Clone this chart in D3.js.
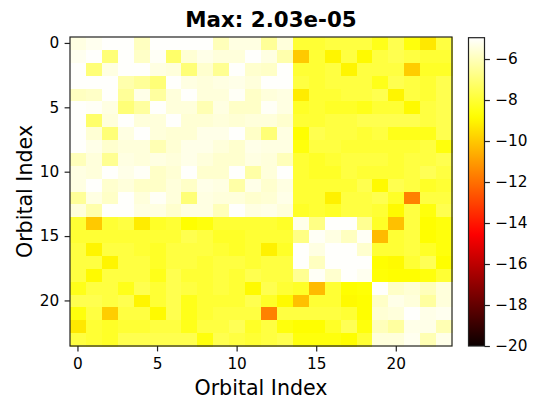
<!DOCTYPE html>
<html>
<head>
<meta charset="utf-8">
<script src="https://cdn.jsdelivr.net/npm/d3@7"></script>
<style>
  body { margin: 0; background: #fff; }
  svg { display: block; font-family: "DejaVu Sans", sans-serif; }
</style>
</head>
<body>
<div id="chart"></div>
<script>
// orbital indices on both axes
var orbitals = d3.range(0, 24);
var axisTicks = [0, 5, 10, 15, 20];
var colorTicks = [-6, -8, -10, -12, -14, -16, -18, -20];
var colorDomain = [-20, -4.96];
var titleText = 'Max: 2.03e-05';

// log10 magnitude of each matrix element (row = y, col = x)
var logMagnitude = [
    [-5.4, -5.2, -5.0, -5.0, -5.9, -5.0, -5.0, -5.0, -5.0, -6.0, -5.4, -5.4, -6.5, -5.5, -8.0, -8.0, -7.8, -7.8, -7.8, -8.4, -7.6, -8.6, -9.3, -7.8],
    [-5.2, -5.0, -7.0, -5.0, -5.8, -5.1, -7.2, -5.6, -5.3, -5.5, -5.5, -5.0, -5.4, -6.2, -10.0, -8.0, -9.0, -7.8, -8.9, -7.8, -7.6, -7.8, -8.0, -8.0],
    [-5.0, -7.0, -5.4, -5.0, -5.0, -5.4, -5.5, -7.0, -5.7, -6.6, -5.0, -5.7, -5.8, -5.0, -8.0, -8.0, -7.8, -9.0, -7.8, -7.8, -7.8, -9.9, -8.2, -8.2],
    [-5.0, -5.0, -5.0, -6.2, -6.5, -7.0, -5.0, -5.4, -5.5, -5.4, -5.3, -5.5, -5.0, -5.0, -7.8, -8.0, -7.8, -7.8, -7.8, -8.4, -7.6, -7.8, -8.0, -7.6],
    [-5.9, -5.8, -5.0, -6.5, -5.3, -6.4, -5.5, -5.0, -5.5, -5.5, -5.1, -5.8, -5.5, -5.4, -9.2, -8.0, -8.0, -7.8, -7.8, -7.6, -9.0, -7.8, -8.0, -7.6],
    [-5.0, -5.1, -5.4, -7.0, -6.4, -5.0, -5.5, -5.5, -6.1, -5.4, -5.8, -5.8, -5.1, -5.4, -8.2, -8.0, -8.2, -8.2, -8.4, -8.0, -8.0, -8.9, -7.8, -7.6],
    [-5.0, -7.2, -5.5, -5.0, -5.5, -5.5, -5.0, -5.6, -5.6, -5.5, -5.6, -5.5, -5.5, -5.7, -8.0, -8.0, -7.8, -7.8, -7.6, -7.6, -7.6, -7.6, -7.8, -7.6],
    [-5.0, -5.6, -7.0, -5.4, -5.0, -5.5, -5.6, -5.6, -5.3, -5.3, -5.0, -5.8, -7.0, -5.4, -8.8, -7.6, -7.8, -7.8, -8.0, -7.8, -8.4, -8.4, -8.4, -7.6],
    [-5.0, -5.3, -5.7, -5.5, -5.5, -6.1, -5.6, -5.3, -5.3, -5.5, -5.7, -5.3, -5.4, -5.4, -8.6, -7.8, -7.8, -8.0, -8.0, -8.0, -8.0, -8.0, -7.8, -8.6],
    [-6.0, -5.5, -6.6, -5.4, -5.5, -5.4, -5.5, -5.3, -5.5, -5.7, -5.7, -5.4, -5.5, -6.0, -8.0, -8.2, -8.0, -7.8, -7.8, -7.8, -8.0, -7.8, -7.8, -7.6],
    [-5.4, -5.5, -5.0, -5.3, -5.1, -5.8, -5.6, -5.0, -5.7, -5.7, -5.0, -6.3, -5.5, -5.0, -8.0, -8.2, -8.2, -7.8, -8.0, -8.0, -8.0, -7.8, -7.5, -7.8],
    [-5.4, -5.0, -5.7, -5.5, -5.8, -5.8, -5.5, -5.8, -5.3, -5.4, -6.3, -5.3, -5.7, -5.4, -8.0, -8.0, -8.0, -8.0, -7.6, -8.9, -7.6, -7.8, -8.2, -8.0],
    [-6.5, -5.4, -5.8, -5.0, -5.5, -5.1, -5.5, -7.0, -5.4, -5.5, -5.5, -5.7, -5.6, -5.3, -8.0, -8.0, -9.1, -7.8, -7.8, -7.6, -8.2, -11.6, -7.8, -7.8],
    [-5.5, -6.2, -5.0, -5.0, -5.4, -5.4, -5.7, -5.4, -5.4, -6.0, -5.0, -5.4, -5.3, -5.5, -8.2, -8.0, -8.2, -7.8, -7.8, -8.0, -8.9, -7.8, -8.6, -7.6],
    [-8.0, -10.0, -8.0, -7.8, -9.2, -8.2, -8.0, -8.8, -8.6, -8.0, -8.0, -8.0, -8.0, -8.2, -5.3, -6.8, -5.0, -5.0, -6.6, -8.2, -10.2, -7.8, -8.8, -8.6],
    [-8.0, -8.0, -8.0, -8.0, -8.0, -8.0, -8.0, -7.6, -7.8, -8.2, -8.2, -8.0, -8.0, -8.0, -6.8, -5.1, -5.4, -5.9, -5.1, -10.3, -8.0, -7.8, -8.8, -8.6],
    [-7.8, -9.0, -7.8, -7.8, -8.0, -8.2, -7.8, -7.8, -7.8, -8.0, -8.2, -8.0, -9.1, -8.2, -5.0, -5.4, -5.0, -5.0, -5.7, -8.0, -8.0, -7.8, -8.2, -8.6],
    [-7.8, -7.8, -9.0, -7.8, -7.8, -8.2, -7.8, -7.8, -8.0, -7.8, -7.8, -8.0, -7.8, -7.8, -5.0, -5.9, -5.0, -5.0, -5.0, -8.8, -8.9, -8.0, -7.5, -8.8],
    [-7.8, -8.9, -7.8, -7.8, -7.8, -8.4, -7.6, -8.0, -8.0, -7.8, -8.0, -7.6, -7.8, -7.8, -6.6, -5.1, -5.7, -5.0, -5.2, -8.7, -8.8, -8.8, -8.6, -8.0],
    [-8.4, -7.8, -7.8, -8.4, -7.6, -8.0, -7.6, -7.8, -8.0, -7.8, -8.0, -8.9, -7.6, -8.0, -8.2, -10.3, -8.0, -8.8, -8.7, -5.0, -5.8, -5.6, -6.0, -5.5],
    [-7.6, -7.6, -7.8, -7.6, -9.0, -8.0, -7.6, -8.4, -8.0, -8.0, -8.0, -7.6, -8.2, -8.9, -10.2, -8.0, -8.0, -8.9, -8.8, -5.8, -5.3, -5.5, -6.4, -5.5],
    [-8.6, -7.8, -9.9, -7.8, -7.8, -8.9, -7.6, -8.4, -8.0, -7.8, -7.8, -7.8, -11.6, -7.8, -7.8, -7.8, -7.8, -8.0, -8.8, -5.6, -5.5, -5.0, -5.3, -5.2],
    [-9.3, -8.0, -8.2, -8.0, -8.0, -7.8, -7.8, -8.4, -7.8, -7.8, -7.5, -8.2, -7.8, -8.6, -8.8, -8.8, -8.2, -7.5, -8.6, -6.0, -6.4, -5.3, -5.3, -6.1],
    [-7.8, -8.0, -8.2, -7.6, -7.6, -7.6, -7.6, -7.6, -8.6, -7.6, -7.8, -8.0, -7.8, -7.6, -8.6, -8.6, -8.6, -8.8, -8.0, -5.5, -5.5, -5.2, -6.1, -5.3]
];

var width = 551,
    height = 404,
    plot = { left: 70, top: 37, right: 452, bottom: 346 },
    cbar = { left: 468.5, right: 484.5 };

// matplotlib "hot" colormap, piecewise linear in each channel
var hotR = d3.scaleLinear().domain([0, 0.365079, 1]).range([0.0416, 1, 1]).clamp(true),
    hotG = d3.scaleLinear().domain([0, 0.365079, 0.746032, 1]).range([0, 0, 1, 1]).clamp(true),
    hotB = d3.scaleLinear().domain([0, 0.746032, 1]).range([0, 0, 1]).clamp(true);

function hot(t) {
    return d3.rgb(hotR(t) * 255, hotG(t) * 255, hotB(t) * 255).formatHex();
}

var norm = d3.scaleLinear().domain(colorDomain).range([0, 1]).clamp(true);

var x = d3.scaleBand().domain(orbitals).range([plot.left, plot.right]).padding(0),
    y = d3.scaleBand().domain(orbitals).range([plot.top, plot.bottom]).padding(0);

var svg = d3.select('#chart').append('svg')
    .attr('width', width)
    .attr('height', height);

// cells
var cells = [];
logMagnitude.forEach(function(row, i) {
    row.forEach(function(v, j) {
        cells.push({ row: i, col: j, value: v });
    });
});

svg.append('g')
    .attr('shape-rendering', 'crispEdges')
    .selectAll('rect')
    .data(cells)
  .enter().append('rect')
    .attr('x', function(d) { return x(d.col); })
    .attr('y', function(d) { return y(d.row); })
    .attr('width', x.bandwidth() + 0.5)
    .attr('height', y.bandwidth() + 0.5)
    .attr('fill', function(d) { return hot(norm(d.value)); });

// axes
var fontSize = '15.3px',
    tickLen = 5.4,
    tickPad = 5.4;

var xAxis = svg.append('g')
    .attr('transform', 'translate(0,' + plot.bottom + ')')
    .call(d3.axisBottom(x).tickValues(axisTicks).tickSize(tickLen).tickPadding(tickPad));

var yAxis = svg.append('g')
    .attr('transform', 'translate(' + plot.left + ',0)')
    .call(d3.axisLeft(y).tickValues(axisTicks).tickSize(tickLen).tickPadding(tickPad));

[xAxis, yAxis].forEach(function(g) {
    g.select('.domain').remove();
    g.selectAll('line').attr('stroke', '#222').attr('stroke-width', 1.2);
    g.selectAll('text')
        .attr('fill', '#000')
        .style('font-size', fontSize)
        .style('font-family', '"DejaVu Sans", sans-serif');
});
xAxis.selectAll('text').attr('dy', '0.82em');

svg.append('rect')
    .attr('x', plot.left)
    .attr('y', plot.top)
    .attr('width', plot.right - plot.left)
    .attr('height', plot.bottom - plot.top)
    .attr('fill', 'none')
    .attr('stroke', '#222')
    .attr('stroke-width', 1.2);

// labels (the title sits on the figure, slightly right of the axes centre)
svg.append('text')
    .attr('x', 271)
    .attr('y', 27)
    .attr('text-anchor', 'middle')
    .style('font-size', '21.4px')
    .style('font-weight', 'bold')
    .text(titleText);

svg.append('text')
    .attr('x', (plot.left + plot.right) / 2)
    .attr('y', 395)
    .attr('text-anchor', 'middle')
    .style('font-size', '20.6px')
    .text('Orbital Index');

svg.append('text')
    .attr('transform', 'translate(32,' + ((plot.top + plot.bottom) / 2) + ') rotate(-90)')
    .attr('text-anchor', 'middle')
    .style('font-size', '20.6px')
    .text('Orbital Index');

// colorbar
var cy = d3.scaleLinear().domain(colorDomain).range([plot.bottom, plot.top + 0.7]);

var grad = svg.append('defs').append('linearGradient')
    .attr('id', 'hotGrad')
    .attr('x1', 0).attr('y1', 1)
    .attr('x2', 0).attr('y2', 0);

grad.selectAll('stop')
    .data(d3.range(0, 1.0001, 0.02))
  .enter().append('stop')
    .attr('offset', function(t) { return t; })
    .attr('stop-color', function(t) { return hot(t); });

svg.append('rect')
    .attr('x', cbar.left)
    .attr('y', cy(colorDomain[1]))
    .attr('width', cbar.right - cbar.left)
    .attr('height', cy(colorDomain[0]) - cy(colorDomain[1]))
    .attr('fill', 'url(#hotGrad)')
    .attr('stroke', '#222')
    .attr('stroke-width', 1.2);

var cAxis = svg.append('g')
    .attr('transform', 'translate(' + cbar.right + ',0)')
    .call(d3.axisRight(cy).tickValues(colorTicks).tickSize(tickLen).tickPadding(tickPad)
        .tickFormat(function(d) { return d3.format('d')(d).replace('-', '\u2212'); }));

cAxis.select('.domain').remove();
cAxis.selectAll('line').attr('stroke', '#222').attr('stroke-width', 1.2);
cAxis.selectAll('text')
    .attr('fill', '#000')
    .style('font-size', fontSize)
    .style('font-family', '"DejaVu Sans", sans-serif');
</script>
</body>
</html>
